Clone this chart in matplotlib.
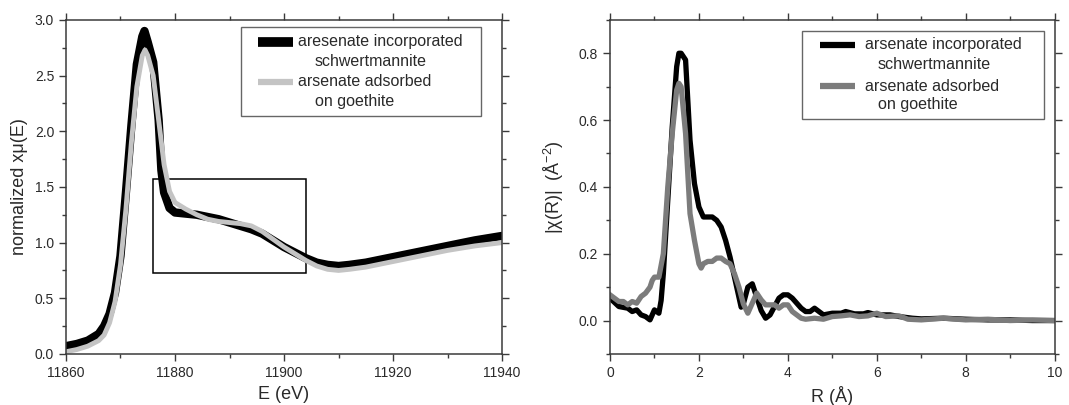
import numpy as np
import matplotlib
matplotlib.use("Agg")
import matplotlib.pyplot as plt
from matplotlib.patches import Rectangle
from matplotlib.ticker import MultipleLocator

plt.rcParams['font.family'] = ['Liberation Sans', 'DejaVu Sans']
plt.rcParams['mathtext.fontset'] = 'custom'
plt.rcParams['mathtext.rm'] = 'Liberation Sans'
plt.rcParams['mathtext.it'] = 'Liberation Sans:italic'

# XANES (left panel)
e_black = [11860, 11862, 11864, 11866, 11867, 11868, 11869, 11870, 11871, 11872,
           11873, 11874, 11874.4, 11875, 11876, 11877, 11877.5, 11878, 11879, 11880,
           11882, 11884, 11886, 11888, 11890, 11892, 11894, 11896, 11898, 11900,
           11902, 11904, 11906, 11908, 11910, 11912, 11915, 11920, 11925, 11930,
           11935, 11940]
mu_black = [0.07, 0.09, 0.12, 0.18, 0.25, 0.36, 0.55, 0.88, 1.45, 2.05,
            2.6, 2.85, 2.9, 2.8, 2.62, 2.1, 1.65, 1.45, 1.31, 1.27,
            1.26, 1.25, 1.23, 1.21, 1.18, 1.15, 1.12, 1.08, 1.02, 0.96,
            0.91, 0.86, 0.82, 0.80, 0.79, 0.80, 0.82, 0.87, 0.92, 0.97,
            1.02, 1.06]
e_gray = [11860, 11862, 11864, 11866, 11867, 11868, 11869, 11870, 11871, 11872,
          11873, 11874, 11874.5, 11875, 11876, 11877, 11878, 11879, 11880, 11882,
          11884, 11886, 11888, 11890, 11892, 11894, 11896, 11898, 11900, 11902,
          11904, 11906, 11908, 11910, 11912, 11915, 11920, 11925, 11930, 11935,
          11940]
mu_gray = [0.02, 0.04, 0.07, 0.12, 0.17, 0.28, 0.47, 0.8, 1.3, 1.9,
           2.4, 2.68, 2.73, 2.68, 2.5, 2.1, 1.7, 1.46, 1.36, 1.3,
           1.25, 1.21, 1.19, 1.18, 1.17, 1.15, 1.1, 1.03, 0.96, 0.9,
           0.84, 0.79, 0.76, 0.75, 0.76, 0.78, 0.83, 0.88, 0.93, 0.97,
           1.0]

# EXAFS Fourier transform (right panel)
r_black = [0, 0.2, 0.4, 0.5, 0.6, 0.7, 0.8, 0.9, 1.0, 1.1, 1.15, 1.2, 1.3, 1.4,
           1.5, 1.55, 1.6, 1.7, 1.8, 1.9, 2.0, 2.1, 2.2, 2.3, 2.4, 2.5, 2.6, 2.7,
           2.8, 2.9, 2.95, 3.0, 3.1, 3.2, 3.3, 3.4, 3.5, 3.6, 3.7, 3.8, 3.9, 4.0,
           4.1, 4.2, 4.3, 4.4, 4.5, 4.6, 4.7, 4.8, 5.0, 5.2, 5.3, 5.5, 5.7, 5.8,
           6.0, 6.3, 6.5, 6.8, 7.0, 7.5, 8.0, 8.5, 9.0, 9.5, 10.0]
chi_black = [0.067, 0.042, 0.037, 0.027, 0.032, 0.017, 0.012, 0.002, 0.032, 0.022,
             0.06, 0.14, 0.36, 0.58, 0.76, 0.80, 0.80, 0.78, 0.54, 0.41, 0.34,
             0.31, 0.31, 0.31, 0.30, 0.28, 0.24, 0.19, 0.13, 0.07, 0.04, 0.05,
             0.10, 0.11, 0.07, 0.03, 0.007, 0.017, 0.042, 0.067, 0.077, 0.077,
             0.067, 0.052, 0.037, 0.027, 0.027, 0.037, 0.027, 0.017, 0.022, 0.022,
             0.027, 0.02, 0.02, 0.024, 0.017, 0.017, 0.012, 0.007, 0.005, 0.007,
             0.004, 0.002, 0.002, 0.0, 0.0]
r_gray = [0, 0.1, 0.2, 0.3, 0.4, 0.5, 0.6, 0.7, 0.8, 0.9, 0.95, 1.0, 1.1, 1.2,
          1.3, 1.4, 1.5, 1.55, 1.6, 1.7, 1.8, 1.9, 2.0, 2.05, 2.1, 2.2, 2.3, 2.4,
          2.5, 2.6, 2.7, 2.8, 2.9, 3.0, 3.1, 3.2, 3.3, 3.4, 3.5, 3.6, 3.7, 3.8,
          3.9, 4.0, 4.1, 4.2, 4.3, 4.4, 4.6, 4.8, 5.0, 5.2, 5.4, 5.6, 5.8, 6.0,
          6.2, 6.5, 6.7, 7.0, 7.5, 8.0, 8.5, 9.0, 9.5, 10.0]
chi_gray = [0.077, 0.067, 0.057, 0.057, 0.047, 0.057, 0.052, 0.072, 0.082, 0.10,
            0.12, 0.13, 0.13, 0.20, 0.40, 0.56, 0.69, 0.71, 0.70, 0.56, 0.32,
            0.24, 0.17, 0.157, 0.17, 0.177, 0.177, 0.187, 0.187, 0.177, 0.17,
            0.14, 0.10, 0.05, 0.022, 0.052, 0.082, 0.062, 0.047, 0.047, 0.047,
            0.037, 0.047, 0.047, 0.027, 0.017, 0.007, 0.004, 0.007, 0.004, 0.012,
            0.014, 0.017, 0.012, 0.014, 0.022, 0.012, 0.014, 0.004, 0.002, 0.007,
            0.002, 0.004, 0.0, 0.002, 0.0]

legend_left = [("aresenate incorporated", "schwertmannite"),
               ("arsenate adsorbed", "on goethite")]
legend_right = [("arsenate incorporated", "schwertmannite"),
                ("arsenate adsorbed", "on goethite")]

TXT = '#2a2a2a'
SPINE = '#3a3a3a'
GRAY_L = '#c4c4c4'
GRAY_R = '#7c7c7c'

fig = plt.figure(figsize=(10.69, 4.05), dpi=100)
ax1 = fig.add_axes([0.0617, 0.126, 0.408, 0.825])
ax2 = fig.add_axes([0.5706, 0.126, 0.416, 0.825])


def style(ax):
    for s in ax.spines.values():
        s.set_color(SPINE)
        s.set_linewidth(1.1)
    ax.tick_params(which='both', direction='out', top=True, right=True,
                   color=SPINE, labelcolor=TXT, labelsize=10, width=1)
    ax.tick_params(which='major', length=5)
    ax.tick_params(which='minor', length=3)
    ax.tick_params(axis='x', pad=4)


def draw_legend(ax, entries, colors, widths, box, hx, tx, tx2, rows, fs):
    # hand-made legend (Origin style: handle next to first line, second line indented)
    x0, y0, x1, y1 = box
    ax.add_patch(Rectangle((x0, y0), x1 - x0, y1 - y0, transform=ax.transAxes,
                           fill=True, fc='white', ec='#666666', lw=1.0,
                           clip_on=False, zorder=5))
    for i, ((a, b), c, w) in enumerate(zip(entries, colors, widths)):
        ya, yb = rows[2 * i], rows[2 * i + 1]
        ax.plot(hx, [ya, ya], color=c, lw=w, solid_capstyle='butt',
                transform=ax.transAxes, clip_on=False, zorder=6)
        ax.text(tx, ya, a, transform=ax.transAxes, fontsize=fs, color=TXT,
                va='center', ha='left', zorder=6)
        ax.text(tx2, yb, b, transform=ax.transAxes, fontsize=fs, color=TXT,
                va='center', ha='left', zorder=6)


# left panel
ax1.plot(e_black, mu_black, color='black', lw=6, solid_joinstyle='round',
         solid_capstyle='round')
ax1.plot(e_gray, mu_gray, color=GRAY_L, lw=3.5, solid_joinstyle='round',
         solid_capstyle='round')
ax1.add_patch(Rectangle((11876, 0.73), 28, 0.84, fill=False, ec='black', lw=1.1))
ax1.set_xlim(11860, 11940)
ax1.set_ylim(0, 3.0)
ax1.xaxis.set_major_locator(MultipleLocator(20))
ax1.xaxis.set_minor_locator(MultipleLocator(10))
ax1.set_yticks([0, 0.5, 1.0, 1.5, 2.0, 2.5, 3.0])
ax1.set_yticklabels(['0.0', '0.5', '1.0', '1.5', '2.0', '2.5', '3.0'])
ax1.yaxis.set_minor_locator(MultipleLocator(0.25))
style(ax1)
ax1.set_xlabel('E (eV)', fontsize=13, color=TXT, labelpad=4)
ax1.set_ylabel('normalized xμ(E)', fontsize=13, color=TXT, labelpad=5)
draw_legend(ax1, legend_left, ['black', GRAY_L], [7, 4.5],
            (0.401, 0.713, 0.952, 0.979), [0.440, 0.521], 0.532, 0.571,
            [0.935, 0.875, 0.815, 0.755], 11.5)

# right panel
ax2.plot(r_black, chi_black, color='black', lw=3.8, solid_joinstyle='round')
ax2.plot(r_gray, chi_gray, color=GRAY_R, lw=3.8, solid_joinstyle='round')
ax2.set_xlim(0, 10)
ax2.set_ylim(-0.1, 0.9)
ax2.xaxis.set_major_locator(MultipleLocator(2))
ax2.xaxis.set_minor_locator(MultipleLocator(1))
ax2.set_yticks([0.0, 0.2, 0.4, 0.6, 0.8])
ax2.set_yticklabels(['0.0', '0.2', '0.4', '0.6', '0.8'])
ax2.yaxis.set_minor_locator(MultipleLocator(0.1))
style(ax2)
ax2.set_xlabel('R (Å)', fontsize=13, color=TXT, labelpad=4)
ax2.set_ylabel('|χ(R)|  (Å$^{-2}$)', fontsize=13, color=TXT, labelpad=9)
draw_legend(ax2, legend_right, ['black', GRAY_R], [4.5, 4.5],
            (0.431, 0.704, 0.975, 0.967), [0.472, 0.551], 0.573, 0.602,
            [0.925, 0.865, 0.802, 0.746], 11.6)

fig.savefig('out.png', dpi=100)
